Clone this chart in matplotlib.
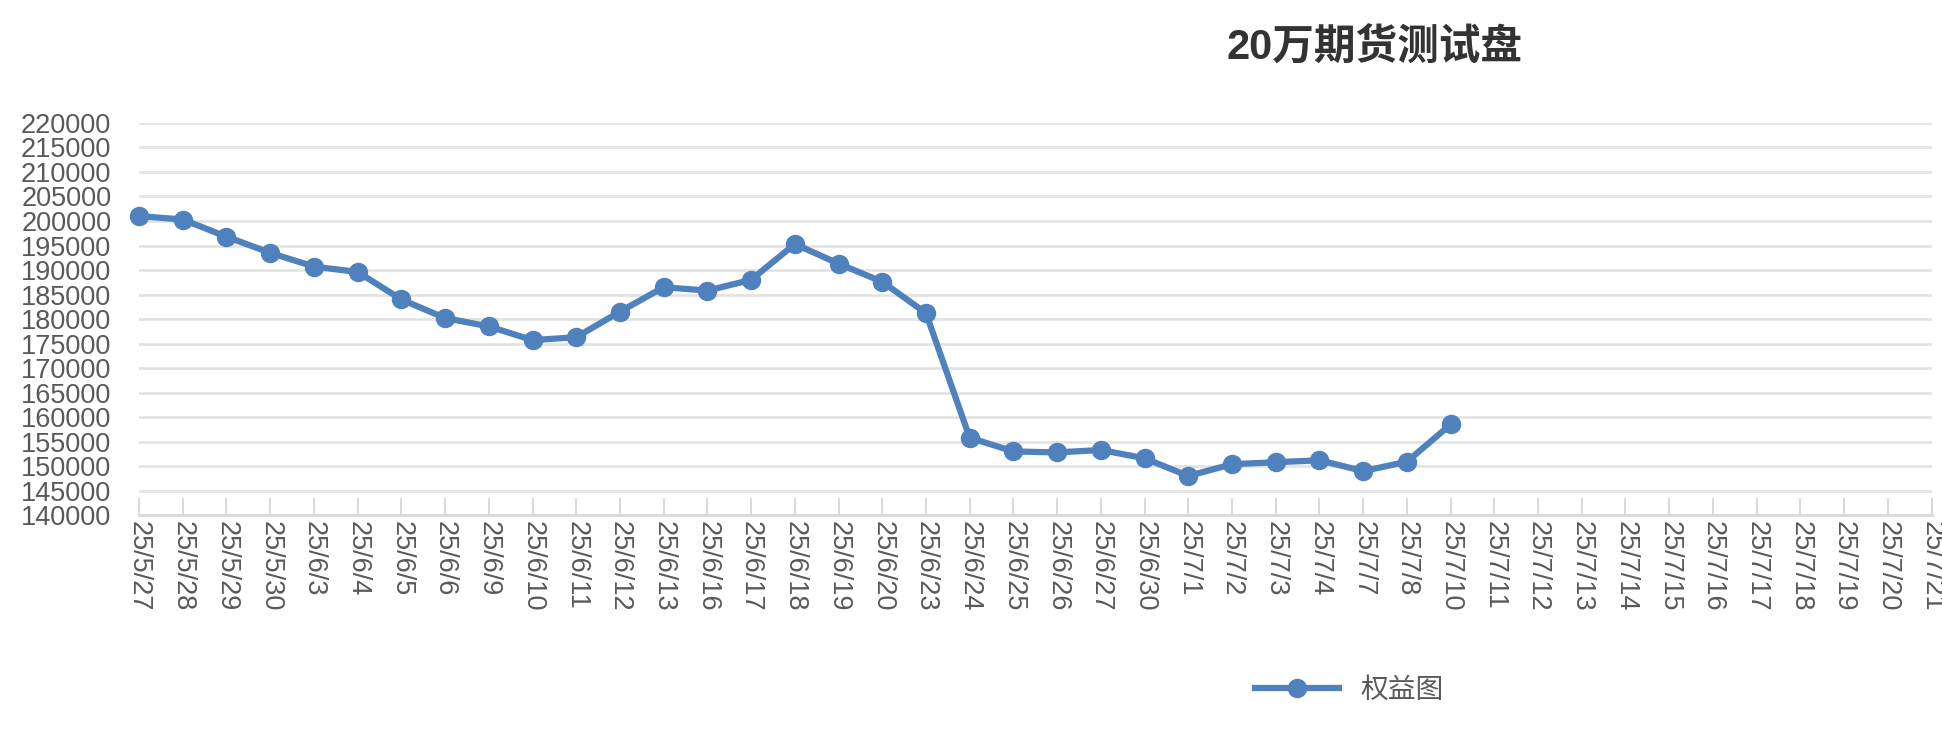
import matplotlib.pyplot as plt

plt.rcParams['font.family'] = ['Liberation Sans', 'Noto Sans CJK SC', 'DejaVu Sans']

# 日期标签
dates = ['25/5/27', '25/5/28', '25/5/29', '25/5/30', '25/6/3', '25/6/4', '25/6/5', '25/6/6',
         '25/6/9', '25/6/10', '25/6/11', '25/6/12', '25/6/13', '25/6/16', '25/6/17', '25/6/18',
         '25/6/19', '25/6/20', '25/6/23', '25/6/24', '25/6/25', '25/6/26', '25/6/27', '25/6/30',
         '25/7/1', '25/7/2', '25/7/3', '25/7/4', '25/7/7', '25/7/8', '25/7/10', '25/7/11',
         '25/7/12', '25/7/13', '25/7/14', '25/7/15', '25/7/16', '25/7/17', '25/7/18', '25/7/19',
         '25/7/20', '25/7/21']
# 权益
equity = [201000, 200300, 196800, 193500, 190700, 189600, 184000, 180200, 178500, 175700,
          176300, 181500, 186500, 185800, 188000, 195300, 191300, 187600, 181200, 155800,
          153000, 152800, 153300, 151600, 148000, 150400, 150800, 151200, 149000, 150900,
          158500]

fig = plt.figure(figsize=(19.42, 7.36), dpi=100)
ax = fig.add_axes([0.0716, 0.30, 0.923, 0.533])

x = list(range(len(dates)))
ax.plot(x[:len(equity)], equity, color='#4f81bd', lw=4.5, marker='o', ms=13,
        label='权益图', clip_on=False, zorder=3)

ax.set_xlim(0, len(dates) - 1)
ax.set_ylim(140000, 220000)
ax.set_yticks(range(140000, 220001, 5000))
ax.set_xticks(x)
ax.set_xticklabels(dates, rotation=270, fontsize=19.5, color='#595959')
ax.tick_params(axis='y', labelsize=19.5, labelcolor='#595959', length=0, pad=20)
ax.tick_params(axis='x', length=12, color='#d9d9d9', width=1.5, pad=4, direction='in')
ax.grid(axis='y', color='#e3e3e3', lw=2)
ax.set_axisbelow(True)
for s in ['top', 'right', 'left']:
    ax.spines[s].set_visible(False)
ax.spines['bottom'].set_color('#d9d9d9')
ax.spines['bottom'].set_linewidth(2)

fig.text(0.708, 0.935, '20万期货测试盘', fontsize=30, fontweight='bold', color='#333333',
         ha='center', va='center', family=['Liberation Sans', 'Noto Sans CJK SC'])
fig.legend(loc='center', bbox_to_anchor=(0.695, 0.062), frameon=False, fontsize=20,
           labelcolor='#595959', handlelength=3)

fig.savefig('out.png')
